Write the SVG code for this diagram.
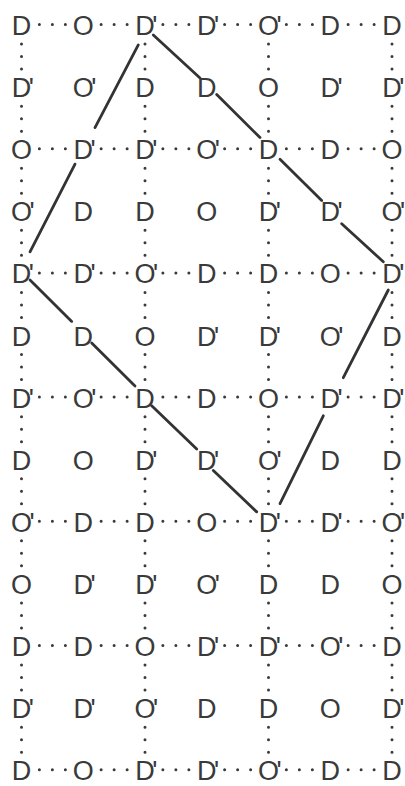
<svg xmlns="http://www.w3.org/2000/svg" width="405" height="786" viewBox="0 0 405 786">
<style>
text{font-family:"Liberation Sans",Arial,sans-serif;font-size:27px;fill:#3a3a3a}
.p{letter-spacing:-2.5px}
.h{stroke:#3a3a3a;stroke-width:3;stroke-linecap:round;stroke-dasharray:0 13 0 13 0 35.75;fill:none}
.v{stroke:#3a3a3a;stroke-width:3;stroke-linecap:round;stroke-dasharray:0 12.5 0 12.5 0 37.1;fill:none}
.s{stroke:#333;stroke-width:2.8;stroke-linecap:round;fill:none}
</style>
<rect width="405" height="786" fill="#fff"/>
<g id="connectors">
<g id="dotted-rows">
<line class="h" x1="39.375" y1="24.5" x2="374.6" y2="24.5"/>
<line class="h" x1="39.375" y1="148.7" x2="374.6" y2="148.7"/>
<line class="h" x1="39.375" y1="272.9" x2="374.6" y2="272.9"/>
<line class="h" x1="39.375" y1="397.1" x2="374.6" y2="397.1"/>
<line class="h" x1="39.375" y1="521.3" x2="374.6" y2="521.3"/>
<line class="h" x1="39.375" y1="645.5" x2="374.6" y2="645.5"/>
<line class="h" x1="39.375" y1="769.7" x2="374.6" y2="769.7"/>
</g>
<g id="dotted-cols">
<line class="v" x1="21.5" y1="44.05" x2="21.5" y2="752.6"/>
<line class="v" x1="145" y1="44.05" x2="145" y2="752.6"/>
<line class="v" x1="268.5" y1="44.05" x2="268.5" y2="752.6"/>
<line class="v" x1="392" y1="44.05" x2="392" y2="752.6"/>
</g>
<g id="solid-edges">
<line class="s" x1="153.3" y1="34.94" x2="200" y2="77.96"/>
<line class="s" x1="216.7" y1="94.56" x2="260" y2="137.58"/>
<line class="s" x1="280" y1="159.14" x2="321.7" y2="200.57"/>
<line class="s" x1="341.7" y1="223.72" x2="383.3" y2="261.78"/>
<line class="s" x1="138.3" y1="44.88" x2="95" y2="127.64"/>
<line class="s" x1="75" y1="164.11" x2="30" y2="251.84"/>
<line class="s" x1="30" y1="280.06" x2="71.7" y2="321.39"/>
<line class="s" x1="91.7" y1="342.96" x2="135" y2="385.98"/>
<line class="s" x1="151.7" y1="405.85" x2="196.7" y2="448.97"/>
<line class="s" x1="213.3" y1="470.43" x2="256.7" y2="511.87"/>
<line class="s" x1="388.3" y1="290" x2="343.3" y2="377.73"/>
<line class="s" x1="323.3" y1="415.79" x2="280" y2="503.62"/>
</g>
</g>
<g id="nodes">
<g id="r1c1"><text x="11.75" y="35">D</text></g>
<g id="r1c2"><text x="72.75" y="35">O</text></g>
<g id="r1c3"><text class="p" x="135.25" y="35">D'</text></g>
<g id="r1c4"><text class="p" x="197" y="35">D'</text></g>
<g id="r1c5"><text class="p" x="258" y="35">O'</text></g>
<g id="r1c6"><text x="320.5" y="35">D</text></g>
<g id="r1c7"><text x="382.25" y="35">D</text></g>

<g id="r2c1"><text class="p" x="11.75" y="97.1">D'</text></g>
<g id="r2c2"><text class="p" x="72.75" y="97.1">O'</text></g>
<g id="r2c3"><text x="135.25" y="97.1">D</text></g>
<g id="r2c4"><text x="197" y="97.1">D</text></g>
<g id="r2c5"><text x="258" y="97.1">O</text></g>
<g id="r2c6"><text class="p" x="320.5" y="97.1">D'</text></g>
<g id="r2c7"><text class="p" x="382.25" y="97.1">D'</text></g>

<g id="r3c1"><text x="11" y="159.2">O</text></g>
<g id="r3c2"><text class="p" x="73.5" y="159.2">D'</text></g>
<g id="r3c3"><text class="p" x="135.25" y="159.2">D'</text></g>
<g id="r3c4"><text class="p" x="196.25" y="159.2">O'</text></g>
<g id="r3c5"><text x="258.75" y="159.2">D</text></g>
<g id="r3c6"><text x="320.5" y="159.2">D</text></g>
<g id="r3c7"><text x="381.5" y="159.2">O</text></g>

<g id="r4c1"><text class="p" x="11" y="221.3">O'</text></g>
<g id="r4c2"><text x="73.5" y="221.3">D</text></g>
<g id="r4c3"><text x="135.25" y="221.3">D</text></g>
<g id="r4c4"><text x="196.25" y="221.3">O</text></g>
<g id="r4c5"><text class="p" x="258.75" y="221.3">D'</text></g>
<g id="r4c6"><text class="p" x="320.5" y="221.3">D'</text></g>
<g id="r4c7"><text class="p" x="381.5" y="221.3">O'</text></g>

<g id="r5c1"><text class="p" x="11.75" y="283.4">D'</text></g>
<g id="r5c2"><text class="p" x="73.5" y="283.4">D'</text></g>
<g id="r5c3"><text class="p" x="134.5" y="283.4">O'</text></g>
<g id="r5c4"><text x="197" y="283.4">D</text></g>
<g id="r5c5"><text x="258.75" y="283.4">D</text></g>
<g id="r5c6"><text x="319.75" y="283.4">O</text></g>
<g id="r5c7"><text class="p" x="382.25" y="283.4">D'</text></g>

<g id="r6c1"><text x="11.75" y="345.5">D</text></g>
<g id="r6c2"><text x="73.5" y="345.5">D</text></g>
<g id="r6c3"><text x="134.5" y="345.5">O</text></g>
<g id="r6c4"><text class="p" x="197" y="345.5">D'</text></g>
<g id="r6c5"><text class="p" x="258.75" y="345.5">D'</text></g>
<g id="r6c6"><text class="p" x="319.75" y="345.5">O'</text></g>
<g id="r6c7"><text x="382.25" y="345.5">D</text></g>

<g id="r7c1"><text class="p" x="11.75" y="407.6">D'</text></g>
<g id="r7c2"><text class="p" x="72.75" y="407.6">O'</text></g>
<g id="r7c3"><text x="135.25" y="407.6">D</text></g>
<g id="r7c4"><text x="197" y="407.6">D</text></g>
<g id="r7c5"><text x="258" y="407.6">O</text></g>
<g id="r7c6"><text class="p" x="320.5" y="407.6">D'</text></g>
<g id="r7c7"><text class="p" x="382.25" y="407.6">D'</text></g>

<g id="r8c1"><text x="11.75" y="469.7">D</text></g>
<g id="r8c2"><text x="72.75" y="469.7">O</text></g>
<g id="r8c3"><text class="p" x="135.25" y="469.7">D'</text></g>
<g id="r8c4"><text class="p" x="197" y="469.7">D'</text></g>
<g id="r8c5"><text class="p" x="258" y="469.7">O'</text></g>
<g id="r8c6"><text x="320.5" y="469.7">D</text></g>
<g id="r8c7"><text x="382.25" y="469.7">D</text></g>

<g id="r9c1"><text class="p" x="11" y="531.8">O'</text></g>
<g id="r9c2"><text x="73.5" y="531.8">D</text></g>
<g id="r9c3"><text x="135.25" y="531.8">D</text></g>
<g id="r9c4"><text x="196.25" y="531.8">O</text></g>
<g id="r9c5"><text class="p" x="258.75" y="531.8">D'</text></g>
<g id="r9c6"><text class="p" x="320.5" y="531.8">D'</text></g>
<g id="r9c7"><text class="p" x="381.5" y="531.8">O'</text></g>

<g id="r10c1"><text x="11" y="593.9">O</text></g>
<g id="r10c2"><text class="p" x="73.5" y="593.9">D'</text></g>
<g id="r10c3"><text class="p" x="135.25" y="593.9">D'</text></g>
<g id="r10c4"><text class="p" x="196.25" y="593.9">O'</text></g>
<g id="r10c5"><text x="258.75" y="593.9">D</text></g>
<g id="r10c6"><text x="320.5" y="593.9">D</text></g>
<g id="r10c7"><text x="381.5" y="593.9">O</text></g>

<g id="r11c1"><text x="11.75" y="656">D</text></g>
<g id="r11c2"><text x="73.5" y="656">D</text></g>
<g id="r11c3"><text x="134.5" y="656">O</text></g>
<g id="r11c4"><text class="p" x="197" y="656">D'</text></g>
<g id="r11c5"><text class="p" x="258.75" y="656">D'</text></g>
<g id="r11c6"><text class="p" x="319.75" y="656">O'</text></g>
<g id="r11c7"><text x="382.25" y="656">D</text></g>

<g id="r12c1"><text class="p" x="11.75" y="718.1">D'</text></g>
<g id="r12c2"><text class="p" x="73.5" y="718.1">D'</text></g>
<g id="r12c3"><text class="p" x="134.5" y="718.1">O'</text></g>
<g id="r12c4"><text x="197" y="718.1">D</text></g>
<g id="r12c5"><text x="258.75" y="718.1">D</text></g>
<g id="r12c6"><text x="319.75" y="718.1">O</text></g>
<g id="r12c7"><text class="p" x="382.25" y="718.1">D'</text></g>

<g id="r13c1"><text x="11.75" y="780.2">D</text></g>
<g id="r13c2"><text x="72.75" y="780.2">O</text></g>
<g id="r13c3"><text class="p" x="135.25" y="780.2">D'</text></g>
<g id="r13c4"><text class="p" x="197" y="780.2">D'</text></g>
<g id="r13c5"><text class="p" x="258" y="780.2">O'</text></g>
<g id="r13c6"><text x="320.5" y="780.2">D</text></g>
<g id="r13c7"><text x="382.25" y="780.2">D</text></g>
</g>
</svg>
